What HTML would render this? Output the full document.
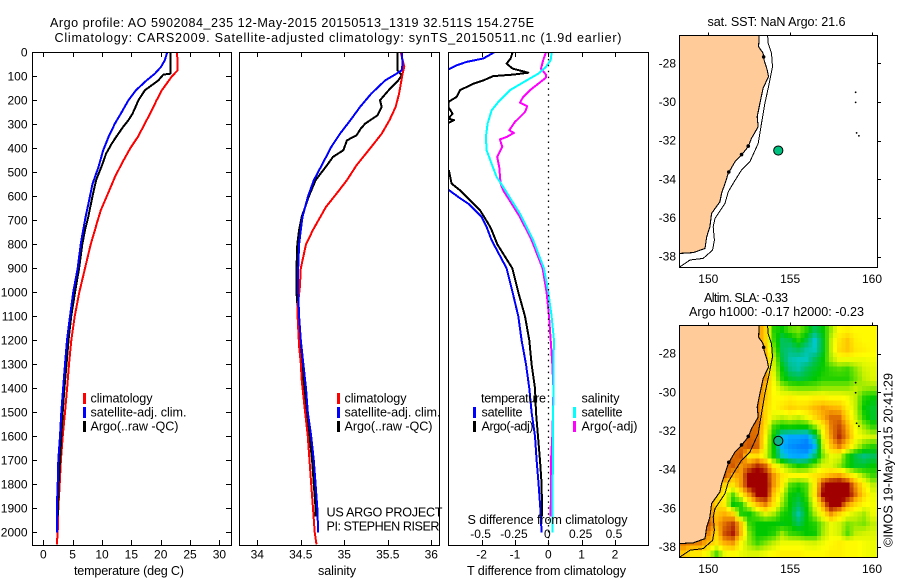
<!DOCTYPE html>
<html>
<head>
<meta charset="utf-8">
<title>Argo profile AO 5902084_235</title>
<style>
html,body{margin:0;padding:0;background:#fff;}
svg{display:block;font-family:"Liberation Sans",sans-serif;font-size:12px;fill:#000;}
text{stroke:none;}
text[textLength]{font-size:12.6px;}
.crisp{shape-rendering:crispEdges;}
</style>
</head>
<body>
<svg id="figure" xmlns="http://www.w3.org/2000/svg" width="900" height="580" viewBox="0 0 900 580">
  <defs>
    <clipPath id="clip-t"><rect x="32.5" y="52.5" width="199" height="493"/></clipPath>
    <clipPath id="clip-s"><rect x="239.5" y="52.5" width="200" height="493"/></clipPath>
    <clipPath id="clip-d"><rect x="448.5" y="52.5" width="200" height="493"/></clipPath>
    <clipPath id="clip-m1"><rect x="679.5" y="35.5" width="198" height="232"/></clipPath>
    <clipPath id="clip-m2"><rect x="679.5" y="325.5" width="198" height="232"/></clipPath>
  </defs>
  <rect x="0" y="0" width="900" height="580" fill="#fff"/>

  <text x="50" y="27" textLength="484" lengthAdjust="spacing">Argo profile: AO 5902084_235 12-May-2015 20150513_1319 32.511S 154.275E</text>
  <text x="54.5" y="42" textLength="567" lengthAdjust="spacing">Climatology: CARS2009. Satellite-adjusted climatology: synTS_20150511.nc (1.9d earlier)</text>

  <g id="temp-series" clip-path="url(#clip-t)"></g>
  <g id="sal-series" clip-path="url(#clip-s)"></g>
  <g id="diff-series" clip-path="url(#clip-d)"></g>
  <line x1="548.5" y1="53" x2="548.5" y2="545" stroke="#000" stroke-width="1.3" stroke-dasharray="1.5 4.4"/>
  <g id="heat" clip-path="url(#clip-m2)" class="crisp"></g>
  <g id="map1" clip-path="url(#clip-m1)"></g>
  <g id="map2" clip-path="url(#clip-m2)"></g>

  <g fill="none" stroke="#000" stroke-width="1" class="crisp">
    <rect x="32.5" y="52.5" width="199" height="493"/>
    <rect x="239.5" y="52.5" width="200" height="493"/>
    <rect x="448.5" y="52.5" width="200" height="493"/>
    <rect x="679.5" y="35.5" width="198" height="232"/>
    <rect x="679.5" y="325.5" width="198" height="232"/>
  </g>
  <g id="axes"></g>

  <text x="74" y="575" textLength="110" lengthAdjust="spacing">temperature (deg C)</text>
  <text x="318" y="575" textLength="38" lengthAdjust="spacing">salinity</text>
  <text x="467" y="575" textLength="159" lengthAdjust="spacing">T difference from climatology</text>
  <text x="467.5" y="524" textLength="160" lengthAdjust="spacing">S difference from climatology</text>

  <g>
    <rect x="83" y="393" width="3" height="11" fill="#f00"/>
    <text x="90.5" y="402.5" textLength="62" lengthAdjust="spacing">climatology</text>
    <rect x="83" y="407" width="3" height="11" fill="#00f"/>
    <text x="90.5" y="416.5" textLength="96" lengthAdjust="spacing">satellite-adj. clim.</text>
    <rect x="83" y="421" width="3" height="11" fill="#000"/>
    <text x="90.5" y="430.5" textLength="88" lengthAdjust="spacing">Argo(..raw -QC)</text>
  </g>
  <g>
    <rect x="337" y="393" width="3" height="11" fill="#f00"/>
    <text x="344.5" y="402.5" textLength="62" lengthAdjust="spacing">climatology</text>
    <rect x="337" y="407" width="3" height="11" fill="#00f"/>
    <text x="344.5" y="416.5" textLength="96" lengthAdjust="spacing">satellite-adj. clim.</text>
    <rect x="337" y="421" width="3" height="11" fill="#000"/>
    <text x="344.5" y="430.5" textLength="88" lengthAdjust="spacing">Argo(..raw -QC)</text>
  </g>
  <g>
    <text x="481" y="402.5" textLength="65" lengthAdjust="spacing">temperature</text>
    <text x="581.5" y="402.5" textLength="38" lengthAdjust="spacing">salinity</text>
    <rect x="473" y="407" width="3" height="11" fill="#00f"/>
    <text x="481.5" y="416.5" textLength="41" lengthAdjust="spacing">satellite</text>
    <rect x="473" y="421" width="3" height="11" fill="#000"/>
    <text x="481.5" y="430.5" textLength="52" lengthAdjust="spacing">Argo(-adj)</text>
    <rect x="573" y="407" width="3" height="11" fill="#0ff"/>
    <text x="581.5" y="416.5" textLength="41" lengthAdjust="spacing">satellite</text>
    <rect x="573" y="421" width="3" height="11" fill="#f0f"/>
    <text x="581.5" y="430.5" textLength="56" lengthAdjust="spacing">Argo(-adj)</text>
  </g>
  <text x="326.5" y="516.5" textLength="116" lengthAdjust="spacing">US ARGO PROJECT</text>
  <text x="326.5" y="530.5" textLength="113" lengthAdjust="spacing">PI: STEPHEN RISER</text>

  <text x="707.5" y="26" textLength="138" lengthAdjust="spacing">sat. SST: NaN  Argo: 21.6</text>
  <text x="704" y="302" textLength="84" lengthAdjust="spacing">Altim. SLA: -0.33</text>
  <text x="689" y="316" textLength="175" lengthAdjust="spacing">Argo h1000: -0.17 h2000: -0.23</text>
  <text transform="translate(892.5,547) rotate(-90)" textLength="174" lengthAdjust="spacing">©IMOS 19-May-2015 20:41:29</text>
</svg>

<script>
// ---- axis tick values ----
const depthTicks = [0,100,200,300,400,500,600,700,800,900,1000,1100,1200,1300,1400,1500,1600,1700,1800,1900,2000];
const tempTicks = [0,5,10,15,20,25,30];
const salTicks = [34,34.5,35,35.5,36];
const tDiffTicks = [-2,-1,0,1,2];
const sDiffTicks = [-0.5,-0.25,0,0.25,0.5];
const sDiffTickLabels = ['-0.5','-0.25','0','0.25','0.5'];
const lonTicks = [150,155,160];
const latTicks = [-28,-30,-32,-34,-36,-38];

// ---- temperature profiles ----
const tempClimDepth = [0,75,100,158,200,250,297,353,400,464,520,589,658,714,740,800,900,1000,1100,1200,1300,1400,1500,1600,1700,1800,1900,2000,2050];
const tempClim = [22.8,22.9,21.9,20.2,19.3,18.3,17.3,16.1,14.8,13.35,12.2,11.0,9.8,9.1,8.8,8.07,7.1,6.14,5.35,4.77,4.38,4.05,3.7,3.3,3.0,2.8,2.55,2.45,2.3];
const tempSatDepth = [0,33,61,89,117,158,200,249,297,353,408,478,547,617,686,740,800,900,1000,1100,1200,1300,1400,1500,1600,1700,1800,1900,2000];
const tempSat = [21.1,20.7,20.05,19.0,17.6,15.8,14.5,13.35,12.2,11.1,10.2,9.4,8.4,7.8,7.2,6.8,6.37,5.86,5.1,4.55,4.04,3.7,3.38,3.07,2.84,2.55,2.45,2.3,2.3];
const tempArgoDepth = [0,89,93,117,158,200,228,256,283,311,353,381,422,464,533,603,686,740,800,900,1000,1100,1200,1300,1400,1500,1600,1700,1800,1900,1935];
const tempArgo = [21.65,21.65,20.45,19.6,17.3,16.2,15.7,15.2,14.5,13.6,12.4,11.65,10.7,10.1,9.0,8.35,7.67,7.1,6.65,6.1,5.4,4.75,4.3,3.95,3.6,3.3,3.07,2.85,2.6,2.5,2.45];

// ---- salinity profiles ----
const salClimDepth = [0,61,89,131,172,228,283,339,394,471,533,589,644,714,740,800,900,976,1073,1150,1226,1296,1365,1500,1600,1700,1800,1900,2000,2050];
const salClim = [35.65,35.69,35.67,35.65,35.63,35.59,35.52,35.43,35.31,35.14,35.03,34.91,34.79,34.68,34.64,34.56,34.5,34.49,34.46,34.47,34.48,34.5,34.51,34.55,34.58,34.6,34.62,34.64,34.66,34.68];
const salSatDepth = [0,47,75,89,117,172,228,283,339,394,471,533,603,686,740,800,900,1000,1100,1200,1300,1400,1500,1600,1700,1800,1900,2000];
const salSat = [35.66,35.67,35.66,35.6,35.47,35.31,35.18,35.07,34.95,34.85,34.74,34.65,34.58,34.52,34.5,34.48,34.47,34.47,34.48,34.5,34.53,34.56,34.58,34.62,34.65,34.67,34.69,34.7];
const salArgoDepth = [0,75,96,117,158,200,228,263,297,318,346,367,408,436,471,533,603,686,740,800,900,1000,1100,1200,1300,1400,1500,1600,1700,1800,1900,1935];
const salArgo = [35.61,35.61,35.66,35.62,35.51,35.41,35.43,35.38,35.24,35.19,35.14,35.03,34.99,34.87,34.8,34.67,34.59,34.51,34.48,34.46,34.45,34.45,34.47,34.49,34.52,34.54,34.57,34.6,34.63,34.65,34.67,34.67];

// ---- differences from climatology ----
const tDiffSatDepth = [0,26,40,54,72,90,300,555,572,603,631,658,686,728,783,900,1000,1100,1200,1300,1400,1500,1600,1700,1800,1900,2000];
const tDiffSat = [-1.62,-1.95,-2.45,-2.75,-3.0,-3.5,-3.5,-3.5,-3.0,-2.7,-2.4,-2.2,-2.0,-1.85,-1.7,-1.25,-1.07,-0.9,-0.8,-0.67,-0.57,-0.5,-0.4,-0.35,-0.29,-0.24,-0.2];
const tDiffArgoDepth = [0,26,47,68,85,93,99,117,131,158,186,207,228,256,276,283,294,310,480,494,547,575,617,658,714,740,800,900,1000,1100,1200,1300,1400,1500,1600,1700,1800,1900,1935];
const tDiffArgo = [-1.07,-1.13,-1.25,-1.07,-0.6,-1.05,-1.65,-1.95,-2.25,-2.65,-2.75,-3.0,-3.0,-2.87,-3.0,-2.83,-3.0,-3.4,-3.4,-2.98,-2.9,-2.65,-2.35,-2.05,-1.8,-1.7,-1.53,-1.08,-0.9,-0.7,-0.57,-0.5,-0.4,-0.37,-0.31,-0.25,-0.2,-0.19,-0.19];
const sDiffSatDepth = [0,33,61,89,117,158,207,242,297,353,408,464,519,561,617,672,728,783,900,1000,1100,1200,1300,1400,1600,1800,2000];
const sDiffSat = [0.025,0.018,-0.018,-0.075,-0.163,-0.288,-0.375,-0.425,-0.455,-0.468,-0.463,-0.425,-0.388,-0.338,-0.275,-0.213,-0.163,-0.113,-0.033,0,0.025,0.043,0.038,0.038,0.035,0.033,0.033];
const sDiffArgoDepth = [0,33,68,93,106,131,158,186,210,225,249,290,325,336,353,363,394,436,478,547,575,631,686,728,783,900,1000,1100,1200,1300,1400,1500,1600,1700,1935];
const sDiffArgo = [-0.018,-0.038,-0.055,-0.018,-0.018,-0.075,-0.138,-0.188,-0.213,-0.158,-0.175,-0.25,-0.293,-0.258,-0.313,-0.363,-0.345,-0.383,-0.368,-0.358,-0.338,-0.275,-0.213,-0.175,-0.125,-0.043,-0.013,0.005,0.018,0.03,0.038,0.035,0.03,0.02,0.018];

// ---- map geography (degrees) ----
const coastLon = [153.11,153.07,153.35,153.41,153.6,153.68,153.35,153.15,152.99,153.05,152.64,152.44,152.03,151.63,151.22,151.02,150.81,150.71,150.2,150.1,149.9,149.8,149.09,148.27];
const coastLat = [-26.55,-27.14,-27.48,-27.83,-28.34,-28.69,-29.29,-30.07,-30.76,-31.28,-31.88,-32.31,-32.74,-33.09,-33.69,-34.21,-34.72,-35.16,-35.76,-36.45,-36.97,-37.57,-37.79,-37.83];
const isobathLon = [153.62,153.66,153.86,153.92,153.68,153.46,153.25,153.05,152.54,152.03,151.52,151.22,151.02,150.41,150.3,150.37,150.26,149.69,148.88,148.27];
const isobathLat = [-26.55,-26.97,-27.48,-28.17,-29.21,-30.07,-31.1,-32.14,-33.09,-33.52,-34.21,-34.64,-35.24,-36.02,-36.45,-37.14,-37.66,-38.09,-38.17,-38.52];
const islandLon = [159.0,159.0,159.06,159.2];
const islandLat = [-29.5,-30.02,-31.6,-31.75];
const coastBlobLon = [153.38,152.44,152.03,151.25];
const coastBlobLat = [-27.67,-32.28,-32.72,-33.62];
const floatLon = 154.275;
const floatLat = -32.511;

// ---- sea level anomaly grid (cm), 0.5 degree spacing, north to south ----
const slaLonStart = 148.5;
const slaLatStart = -26.8;
const slaStep = 0.5;
const slaRows = [
[30,30,30,30,30,30,30,30,30,30,15,-12,-15,-8,-5,-12,-22,-15,-3,8,10,8,8,8],
[30,30,30,30,30,30,30,30,30,30,15,-10,-22,-20,-12,-20,-32,-18,0,12,18,10,8,8],
[30,30,30,30,30,30,30,30,30,30,20,-5,-22,-25,-22,-28,-30,-18,0,14,18,12,10,8],
[30,30,30,30,30,30,30,30,30,30,25,0,-20,-28,-30,-30,-22,-15,-2,5,5,5,5,6],
[30,30,30,30,30,30,30,30,30,30,25,2,-15,-25,-28,-22,-18,-14,-10,-8,-10,-4,2,4],
[30,30,30,30,30,30,30,30,30,30,25,5,-12,-18,-20,-18,-15,-12,-12,-12,-12,-6,0,3],
[30,30,30,30,30,30,30,30,30,30,20,7,0,-4,-5,-5,-5,-3,-3,-3,-3,0,-3,-4],
[30,30,30,30,30,30,30,30,30,30,18,8,8,10,8,8,10,10,8,8,6,0,-12,-15],
[30,30,30,30,30,30,30,30,30,30,15,8,12,16,14,15,20,24,22,20,10,0,-15,-18],
[30,30,30,30,30,30,30,30,30,30,15,3,0,3,0,5,14,22,30,30,15,2,-12,-18],
[30,30,30,30,30,30,30,30,30,30,12,-10,-15,-14,-15,-15,-5,10,28,36,22,6,-3,-10],
[30,30,30,30,30,30,30,30,32,30,8,-15,-33,-38,-38,-40,-25,5,25,40,25,8,4,2],
[30,30,30,30,30,30,30,30,34,32,5,-15,-36,-42,-45,-50,-36,0,18,28,15,2,-8,-12],
[30,30,30,30,30,30,30,34,12,14,3,-14,-30,-36,-38,-36,-24,-5,5,3,-12,-20,-25,-22],
[30,30,30,30,30,30,34,25,30,40,32,10,0,-8,-14,-12,-5,3,3,-3,-13,-18,-18,-15],
[30,30,30,30,30,34,22,25,48,55,45,25,12,8,8,8,12,16,22,24,15,6,-3,-10],
[30,30,30,30,30,15,12,25,45,55,50,25,10,-8,-12,-8,10,40,52,55,45,25,10,0],
[30,30,30,30,18,8,-8,8,25,45,48,18,2,-14,-18,-10,12,45,55,55,50,30,15,5],
[30,30,30,30,15,10,-15,-12,5,20,28,12,-3,-15,-22,-14,5,25,52,45,25,15,8,6],
[30,30,30,30,18,22,15,-12,-14,-5,3,-2,-12,-16,-28,-16,-2,10,25,15,6,2,-2,5],
[30,30,30,35,22,30,38,18,-10,-15,-15,-15,-16,-15,-22,-15,-12,-3,5,2,-5,-3,-5,0],
[30,30,30,28,15,35,42,20,-5,-15,-15,-12,-3,-10,-12,-15,-14,-2,5,2,-8,0,2,3],
[30,28,28,20,12,22,25,8,-3,-10,-5,0,5,5,5,3,2,5,8,10,8,8,6,5],
[18,12,12,5,-8,5,8,5,3,3,5,8,10,10,10,8,8,8,10,10,8,8,6,5]
];

// ---- colour scale: SLA (cm) to colour ----
const slaScaleLevels = [-46,-36,-31,-25,-15,-7,0,7,14,22,30,38,45];
const slaScaleColors = [[0,128,255],[0,176,255],[0,200,200],[0,192,128],[0,200,0],[96,224,0],[192,240,0],[255,255,0],[255,221,0],[255,176,0],[224,112,0],[192,64,0],[160,0,0]];

// ---- axis functions ----
const SVGNS = 'http://www.w3.org/2000/svg';
function depthY(d){ return 52.3 + d * 0.24; }
function tempX(t){ return 43.3 + t * 5.87; }
function salX(s){ return 257.3 + (s - 34) * 87; }
function tDiffX(t){ return 548.3 + t * 33.33; }
function sDiffX(s){ return 548.3 + s * 133.33; }
function lonX(l){ return 708.3 + (l - 150) * 16.37; }
function latY1(l){ return 63.3 + (-28 - l) * 19.34; }
function latY2(l){ return 353.7 + (-28 - l) * 19.32; }

function mk(parent, tag, props, txt){
  const el = document.createElementNS(SVGNS, tag);
  for (const k in props) el.setAttribute(k, props[k]);
  if (txt !== undefined) el.textContent = txt;
  parent.appendChild(el);
  return el;
}
function drawProfile(group, xFn, xs, ds, color, name){
  const pts = xs.map((v, i) => xFn(v).toFixed(1) + ',' + depthY(ds[i]).toFixed(1)).join(' ');
  const el = mk(group, 'polyline', {points: pts, fill: 'none', stroke: color, 'stroke-width': 2, 'stroke-linejoin': 'round', 'shape-rendering': 'crispEdges'});
  
  
}

const tempG = document.getElementById('temp-series');
drawProfile(tempG, tempX, tempClim, tempClimDepth, '#f00', 'temperature-climatology-line');
drawProfile(tempG, tempX, tempArgo, tempArgoDepth, '#000', 'temperature-argo-line');
drawProfile(tempG, tempX, tempSat, tempSatDepth, '#00f', 'temperature-satellite-line');

const salG = document.getElementById('sal-series');
drawProfile(salG, salX, salArgo, salArgoDepth, '#000', 'salinity-argo-line');
drawProfile(salG, salX, salClim, salClimDepth, '#f00', 'salinity-climatology-line');
drawProfile(salG, salX, salSat, salSatDepth, '#00f', 'salinity-satellite-line');

const diffG = document.getElementById('diff-series');
drawProfile(diffG, tDiffX, tDiffSat, tDiffSatDepth, '#00f', 't-difference-satellite-line');
drawProfile(diffG, tDiffX, tDiffArgo, tDiffArgoDepth, '#000', 't-difference-argo-line');
drawProfile(diffG, sDiffX, sDiffArgo, sDiffArgoDepth, '#f0f', 's-difference-argo-line');
drawProfile(diffG, sDiffX, sDiffSat, sDiffSatDepth, '#0ff', 's-difference-satellite-line');

// ---- ticks and labels ----
const axesG = document.getElementById('axes');
function tick(x1, y1, x2, y2){
  const el = mk(axesG, 'line', {x1: x1, y1: y1, x2: x2, y2: y2, stroke: '#000', 'stroke-width': 1, 'shape-rendering': 'crispEdges'});
  
  
}
function label(x, y, anchor, str){
  const el = mk(axesG, 'text', {x: x, y: y, 'text-anchor': anchor}, str);
  
  
}
depthTicks.forEach(d => {
  const y = Math.round(depthY(d)) + 0.5;
  tick(32, y, 37, y);
  tick(226, y, 231, y);
  label(27.5, depthY(d) + 4, 'end', String(d));
});
tempTicks.forEach(t => {
  const x = Math.round(tempX(t)) + 0.5;
  tick(x, 53, x, 57);
  tick(x, 540, x, 545);
  label(tempX(t), 558.5, 'middle', String(t));
});
salTicks.forEach(s => {
  const x = Math.round(salX(s)) + 0.5;
  tick(x, 53, x, 57);
  tick(x, 540, x, 545);
  label(salX(s), 558.5, 'middle', String(s));
});
tDiffTicks.forEach(t => {
  const x = Math.round(tDiffX(t)) + 0.5;
  tick(x, 53, x, 57);
  tick(x, 540, x, 545);
  label(tDiffX(t), 558.5, 'middle', String(t));
});
sDiffTicks.forEach((s, i) => {
  label(sDiffX(s) - 1, 538, 'middle', sDiffTickLabels[i]);
});
[[35.5, 283, latY1], [325.5, 573, latY2]].forEach(cfg => {
  lonTicks.forEach(l => {
    const x = Math.round(lonX(l)) + 0.5;
    tick(x, cfg[0] - 3, x, cfg[0]);
    label(lonX(l), cfg[1], 'middle', String(l));
  });
  latTicks.forEach(l => {
    const y = Math.round(cfg[2](l)) + 0.5;
    tick(877.5, y, 881, y);
    label(676, cfg[2](l) + 4, 'end', String(l));
  });
});

// ---- heatmap ----
function slaColor(v){
  const L = slaScaleLevels, C = slaScaleColors;
  if (v <= L[0]) return 'rgb(' + C[0].join(',') + ')';
  for (let i = 1; i < L.length; i++) {
    if (v <= L[i]) {
      const f = (v - L[i-1]) / (L[i] - L[i-1]);
      const c = C[i].map((c1, k) => Math.round(C[i-1][k] + (c1 - C[i-1][k]) * f));
      return 'rgb(' + c.join(',') + ')';
    }
  }
  return 'rgb(' + C[C.length-1].join(',') + ')';
}
function slaAt(r, c){
  const nr = slaRows.length, nc = slaRows[0].length;
  const r0 = Math.max(0, Math.min(nr - 1, Math.floor(r))), r1 = Math.min(nr - 1, r0 + 1);
  const c0 = Math.max(0, Math.min(nc - 1, Math.floor(c))), c1 = Math.min(nc - 1, c0 + 1);
  const fr = Math.max(0, r - r0), fc = Math.max(0, c - c0);
  return (slaRows[r0][c0] * (1 - fc) + slaRows[r0][c1] * fc) * (1 - fr) + (slaRows[r1][c0] * (1 - fc) + slaRows[r1][c1] * fc) * fr;
}
const heatG = document.getElementById('heat');
for (let j = -1; j < slaRows.length * 2; j++) {
  for (let i = -1; i < slaRows[0].length * 2; i++) {
    const lon = slaLonStart + i * slaStep / 2;
    const lat = slaLatStart - j * slaStep / 2;
    const x0 = lonX(lon - slaStep / 4), x1 = lonX(lon + slaStep / 4);
    const y0 = latY2(lat + slaStep / 4), y1 = latY2(lat - slaStep / 4);
    const cell = mk(heatG, 'rect', {x: x0.toFixed(1), y: y0.toFixed(1), width: (x1 - x0 + 0.6).toFixed(1), height: (y1 - y0 + 0.6).toFixed(1), fill: slaColor(slaAt(j / 2, i / 2))});
    
    
  }
}

// ---- map features ----
function drawMap(group, latY, markerFill){
  const landPts = coastLon.map((l, i) => lonX(l).toFixed(1) + ',' + latY(coastLat[i]).toFixed(1));
  landPts.push(lonX(148).toFixed(1) + ',' + latY(coastLat[coastLat.length - 1]).toFixed(1));
  landPts.push(lonX(148).toFixed(1) + ',' + latY(-26).toFixed(1));
  landPts.push(lonX(coastLon[0]).toFixed(1) + ',' + latY(-26).toFixed(1));
  const land = mk(group, 'polygon', {points: landPts.join(' '), fill: '#ffcc99', stroke: 'none'});
  
  
  const coastPts = coastLon.map((l, i) => lonX(l).toFixed(1) + ',' + latY(coastLat[i]).toFixed(1)).join(' ');
  const coast = mk(group, 'polyline', {points: coastPts, fill: 'none', stroke: '#000', 'stroke-width': 1.1, 'shape-rendering': 'crispEdges'});
  
  
  const isoPts = isobathLon.map((l, i) => lonX(l).toFixed(1) + ',' + latY(isobathLat[i]).toFixed(1)).join(' ');
  const iso = mk(group, 'polyline', {points: isoPts, fill: 'none', stroke: '#000', 'stroke-width': 1, 'shape-rendering': 'crispEdges'});
  
  
  coastBlobLon.forEach((l, i) => {
    const blob = mk(group, 'circle', {cx: lonX(l), cy: latY(coastBlobLat[i]), r: 1.8, fill: '#000'});
    
    
  });
  islandLon.forEach((l, i) => {
    const isl = mk(group, 'circle', {cx: lonX(l), cy: latY(islandLat[i]), r: 0.9, fill: '#000'});
    
    
  });
  const marker = mk(group, 'circle', {cx: lonX(floatLon), cy: latY(floatLat), r: 4.6, fill: markerFill, stroke: '#000', 'stroke-width': 1});
  
  
}
drawMap(document.getElementById('map1'), latY1, '#00c080');
drawMap(document.getElementById('map2'), latY2, '#10b088');
</script>
</body>
</html>
